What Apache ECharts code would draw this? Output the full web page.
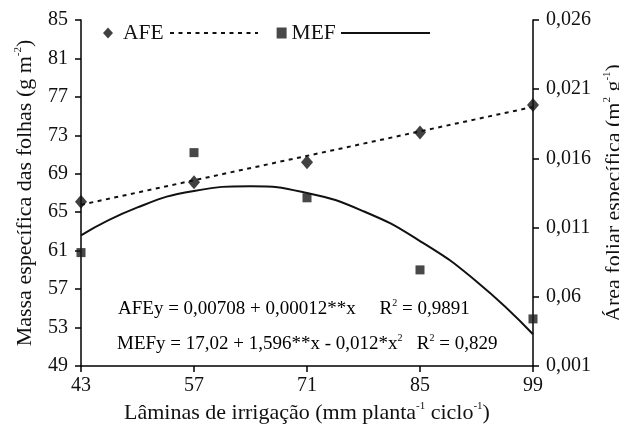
<!DOCTYPE html>
<html><head><meta charset="utf-8">
<script src="https://cdn.jsdelivr.net/npm/echarts@6/dist/echarts.min.js"></script>
<style>html,body{margin:0;padding:0;background:#fff}#c{width:619px;height:425px}</style>
</head><body><div id="c"></div>
<script>
var lamina = [43, 57, 71, 85, 99];
var afe = [0.01287, 0.01427, 0.01572, 0.01788, 0.01986];
var mef = [60.8, 71.2, 66.5, 59.0, 53.9];
var afeTrendX = [43, 99];
var afeTrendY = [0.01265, 0.01972];
var mefTrendX = [43, 50, 57, 64, 71, 78, 85, 92, 99];
var mefTrendY = [62.6, 65.5, 67.2, 67.7, 67.0, 65.1, 62.0, 57.8, 52.3];
var xTicks = [43, 57, 71, 85, 99];
var leftTicks = [49, 53, 57, 61, 65, 69, 73, 77, 81, 85];
var rightTicks = [0.001, 0.006, 0.011, 0.016, 0.021, 0.026];
var rightTickLabels = ['0,001', '0,06', '0,011', '0,016', '0,021', '0,026'];

function pairs(xs, ys) { return xs.map(function (x, i) { return [x, ys[i]]; }); }

var FONT = 'Liberation Serif';
var chart = echarts.init(document.getElementById('c'));
function rich(size) {
  return {
    n: { fontFamily: FONT, fontSize: size, color: '#111' },
    s: { fontFamily: FONT, fontSize: Math.round(size * 0.5), color: '#111', verticalAlign: 'top', lineHeight: Math.round(size * 1.15) }
  };
}
chart.setOption({
  animation: false,
  grid: { left: 81, right: 86, top: 20, bottom: 59, outerBoundsMode: 'none' },
  legend: {
    left: 103, top: 22, padding: 0, itemWidth: 10, itemHeight: 11, itemGap: 113,
    data: [
      { name: 'AFE', icon: 'diamond', textStyle: { padding: [0, 0, 0, 5] } },
      { name: 'MEF', icon: 'rect' }
    ],
    textStyle: { fontFamily: FONT, fontSize: 21.5, color: '#111' }
  },
  xAxis: {
    type: 'value', min: 43, max: 99,
    name: '{n|Lâminas de irrigação (mm planta}{s|-1}{n| ciclo}{s|-1}{n|)}',
    nameLocation: 'middle', nameGap: 35,
    nameTextStyle: { rich: rich(22) },
    axisLine: { show: true, lineStyle: { color: '#000', width: 1.5 } },
    axisTick: { show: true, length: 6, customValues: xTicks, lineStyle: { color: '#000', width: 1.5 } },
    axisLabel: { customValues: xTicks, margin: 10, fontFamily: FONT, fontSize: 20, color: '#111' },
    splitLine: { show: false }
  },
  yAxis: [{
    type: 'value', min: 49, max: 85, position: 'left',
    name: '{n|Massa específica das folhas (g m}{s|-2}{n|)}',
    nameLocation: 'middle', nameGap: 43, nameRotate: 90,
    nameTextStyle: { rich: rich(22) },
    axisLine: { show: true, lineStyle: { color: '#000', width: 1.5 } },
    axisTick: { show: true, length: 6, customValues: leftTicks, lineStyle: { color: '#000', width: 1.5 } },
    axisLabel: { customValues: leftTicks, margin: 13, fontFamily: FONT, fontSize: 20, color: '#111' },
    splitLine: { show: false }
  }, {
    type: 'value', min: 0.001, max: 0.026, position: 'right',
    name: '{n|Área foliar específica (m}{s|2}{n| g}{s|-1}{n|)}',
    nameLocation: 'middle', nameGap: 55, nameRotate: 90,
    nameTextStyle: { rich: rich(22) },
    axisLine: { show: true, lineStyle: { color: '#000', width: 1.5 } },
    axisTick: { show: true, length: 6, customValues: rightTicks, lineStyle: { color: '#000', width: 1.5 } },
    axisLabel: {
      customValues: rightTicks, margin: 13, fontFamily: FONT, fontSize: 20, color: '#111',
      formatter: function (v) {
        var k = Math.round(v * 1000);
        for (var i = 0; i < rightTicks.length; i++) if (Math.round(rightTicks[i] * 1000) === k) return rightTickLabels[i];
        return '';
      }
    },
    splitLine: { show: false }
  }],
  series: [
    { name: 'AFE', type: 'scatter', yAxisIndex: 1, symbol: 'diamond', symbolSize: [12, 14],
      itemStyle: { color: '#111' }, data: pairs(lamina, afe), z: 5 },
    { name: 'MEF', type: 'scatter', yAxisIndex: 0, symbol: 'rect', symbolSize: 9,
      itemStyle: { color: '#1a1a1a' }, data: pairs(lamina, mef), z: 5 },
    { name: 'AFE trend', type: 'line', yAxisIndex: 1, showSymbol: false, symbol: 'none',
      lineStyle: { color: '#111', width: 2, type: [4, 4.5] }, data: pairs(afeTrendX, afeTrendY) },
    { name: 'MEF trend', type: 'line', yAxisIndex: 0, showSymbol: false, symbol: 'none', smooth: true,
      lineStyle: { color: '#111', width: 2 }, data: pairs(mefTrendX, mefTrendY) }
  ],
  graphic: [
    { type: 'line', shape: { x1: 170, y1: 33, x2: 258, y2: 33 }, style: { stroke: '#111', lineWidth: 2, lineDash: [4, 4.5] } },
    { type: 'line', shape: { x1: 341, y1: 33, x2: 430, y2: 33 }, style: { stroke: '#111', lineWidth: 1.8 } },
    { type: 'text', left: 118, top: 298, style: {
      text: '{n|AFEy = 0,00708 + 0,00012**x     R}{s|2}{n| = 0,9891}', rich: rich(19) } },
    { type: 'text', left: 117, top: 333, style: {
      text: '{n|MEFy = 17,02 + 1,596**x - 0,012*x}{s|2}{n|   R}{s|2}{n| = 0,829}', rich: rich(19) } }
  ]
});
</script></body></html>
